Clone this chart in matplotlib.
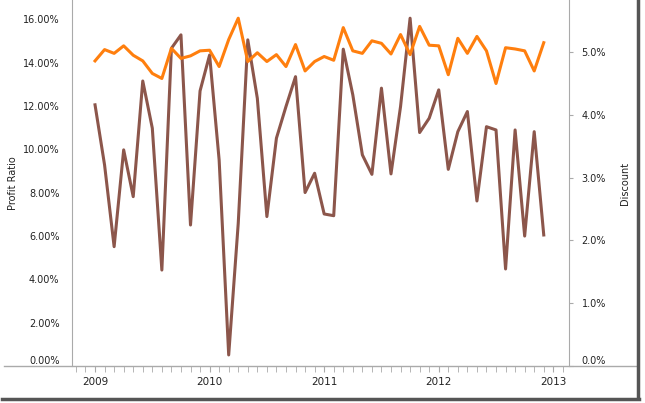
#!/usr/bin/env python3
#
# Profit ratio and discount per month, dual axis
#
import numpy as np
import matplotlib
matplotlib.use('Agg')
import matplotlib.pyplot as plt
from matplotlib.lines import Line2D
from matplotlib.ticker import FixedLocator, PercentFormatter
from matplotlib.transforms import offset_copy

matplotlib.rc('font', family='DejaVu Sans', size=7)

# Monthly data, Jan 2009 .. Dec 2012 (values in %)
years = [2009, 2010, 2011, 2012]
profit_ratio = [
    12.06, 9.28, 5.51, 9.98, 7.82, 13.16, 10.98, 4.43, 14.67, 15.29, 6.51, 12.70,
    14.36, 9.51, 0.51, 6.59, 15.06, 12.36, 6.90, 10.52, 11.98, 13.36, 8.01, 8.90,
    7.02, 6.94, 14.63, 12.52, 9.75, 8.85, 12.83, 8.87, 11.98, 16.06, 10.78, 11.44,
    12.75, 9.08, 10.82, 11.75, 7.62, 11.05, 10.90, 4.48, 10.90, 6.00, 10.82, 6.05,
]
discount = [
    4.86, 5.04, 4.98, 5.10, 4.95, 4.86, 4.66, 4.58, 5.06, 4.90, 4.94, 5.02,
    5.03, 4.77, 5.20, 5.54, 4.85, 4.99, 4.85, 4.96, 4.77, 5.12, 4.70, 4.85,
    4.93, 4.87, 5.39, 5.02, 4.98, 5.18, 5.14, 4.97, 5.28, 4.96, 5.41, 5.11,
    5.10, 4.64, 5.22, 4.98, 5.25, 5.02, 4.50, 5.07, 5.05, 5.02, 4.70, 5.15,
]
profit_ticks = [0, 2, 4, 6, 8, 10, 12, 14, 16]
discount_ticks = [0, 1, 2, 3, 4, 5]

months = np.array([y + m / 12 for y in years for m in range(12)])

W, H = 645, 403
fig = plt.figure(figsize=(W / 100, H / 100), dpi=100)

# Axes in pixel terms: left 72, right 569, bottom 366, top 0
x0, x1, yb = 72, 569, 366
ax = fig.add_axes([x0 / W, (H - yb) / H, (x1 - x0) / W, yb / H])
ax2 = ax.twinx()

grey = '#aaaaaa'
txt = '#222222'

ax.plot(months, profit_ratio, color='#8c564b', lw=2.2)
ax2.plot(months, discount, color='#ff7f0e', lw=2.2)

for a in (ax, ax2):
    for s in a.spines.values():
        s.set_visible(False)
ax.spines['left'].set_visible(True)
ax.spines['left'].set_color(grey)
ax2.spines['right'].set_visible(True)
ax2.spines['right'].set_color(grey)

# X axis: years with monthly minor ticks
ax.set_xticks(years + [2013])
ax.set_xticklabels([str(y) for y in years + [2013]])
ax.set_xticks(np.arange(2008 + 10 / 12, 2013.14, 1 / 12), minor=True)
ax.tick_params(axis='x', which='both', length=4, color=grey, pad=4,
               labelcolor=txt, labelsize=7.5)
ax2.tick_params(axis='x', which='both', length=0)

# limits after the ticks, so set_xticks can't widen them
ax.set_xlim(2008.799, 2013.137)
ax.set_ylim(0, 16.9)
ax2.set_ylim(0, 5.83)

# Y axes
ax.yaxis.set_major_locator(FixedLocator(profit_ticks))
ax.yaxis.set_major_formatter(PercentFormatter(decimals=2))
ax.tick_params(axis='y', length=0, pad=9, labelcolor=txt)
ax2.yaxis.set_major_locator(FixedLocator(discount_ticks))
ax2.yaxis.set_major_formatter(PercentFormatter(decimals=1))
ax2.tick_params(axis='y', length=3, color=grey, pad=6, labelcolor=txt)

# Bottom labels shifted up a bit, as in the source
fig.canvas.draw()
for a in (ax, ax2):
    lab = a.get_yticklabels()[0]
    lab.set_transform(offset_copy(lab.get_transform(), fig=fig, x=0, y=6, units='dots'))

ax.set_ylabel('Profit Ratio', color=txt)
ax.yaxis.set_label_coords((18 - x0) / (x1 - x0), 0.5)
ax2.set_ylabel('Discount', color=txt)
ax2.yaxis.set_label_coords((620 - x0) / (x1 - x0), 0.5)

# Long baseline and frame shadow
fig.add_artist(Line2D([4 / W, 636 / W], [(H - yb) / H] * 2, color=grey, lw=1))
fig.add_artist(Line2D([638 / W, 638 / W], [(H - 398) / H, 1], color='#555555', lw=2.5))
fig.add_artist(Line2D([2 / W, 639 / W], [(H - 399) / H] * 2, color='#555555', lw=2.5))

plt.savefig('out.png', dpi=100)
